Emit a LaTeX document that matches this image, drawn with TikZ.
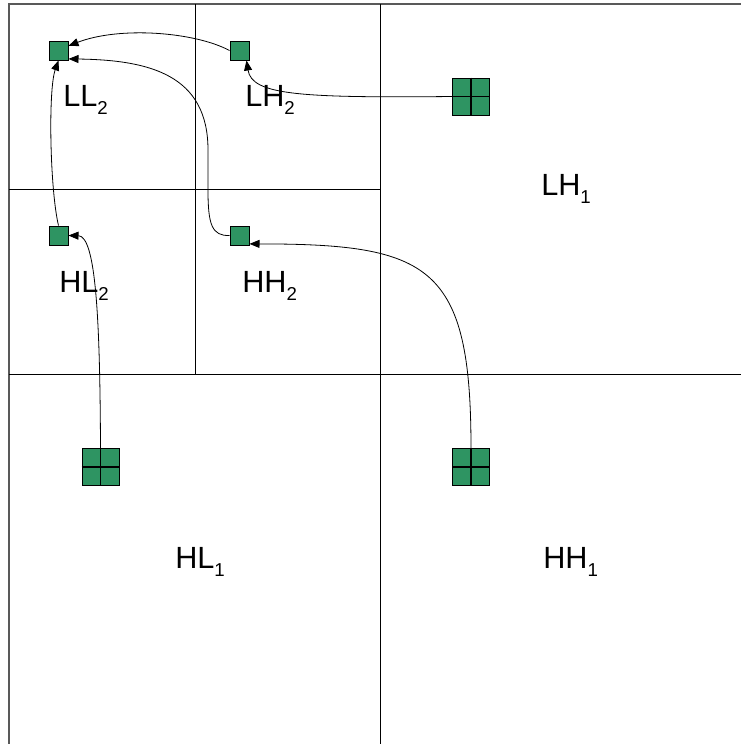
\documentclass[tikz,border=0pt]{standalone}
\usepackage{fontspec}
\setmainfont{Liberation Sans}
\usetikzlibrary{arrows.meta}
\definecolor{cellgreen}{RGB}{46,148,98}
\newcommand{\subidx}[1]{\raisebox{-0.28em}{\fontsize{14}{15}\selectfont #1}}

\begin{document}
\begin{tikzpicture}[x=0.75pt,y=-0.75pt,
  every node/.style={font=\fontsize{23}{27}\selectfont},
  band/.style={anchor=base west,inner sep=0pt},
  cell/.style={draw=black,fill=cellgreen,minimum size=14.25pt,inner sep=0pt,line width=0.75pt},
  blk/.style={cell,minimum size=27.75pt},
  link/.style={-{Triangle[length=7.5pt,width=6pt]},line width=0.6pt}]
\useasboundingbox (0,0) rectangle (741,744);
% subband grid
\draw[gray!70!black,line width=1.5pt] (9,744)--(9,4)--(741,4);
\draw[line width=0.75pt] (380,4)--(380,744) (9,374.5)--(741,374.5);
\draw[line width=0.75pt] (195,4)--(195,374.5) (9,189)--(380,189);
\node[band] (tLL2) at (63,106) {LL\subidx{2}}; \node[band] (tLH2) at (245,106) {LH\subidx{2}};
\node[band] (tHL2) at (59,292) {HL\subidx{2}}; \node[band] (tHH2) at (242,292) {HH\subidx{2}};
\node[band] (tLH1) at (541,195) {LH\subidx{1}};
\node[band] (tHL1) at (175,568) {HL\subidx{1}}; \node[band] (tHH1) at (543,568) {HH\subidx{1}};
% coefficients
\node[cell] (LL2) at (58.5,50.5) {}; \node[cell] (LH2) at (239.5,50.5) {};
\node[cell] (HL2) at (58.5,235.5) {}; \node[cell] (HH2) at (239.5,235.5) {};
\node[blk] (LH1) at (471,96.5) {}; \node[blk] (HL1) at (100.5,467) {}; \node[blk] (HH1) at (471,467) {};
\foreach \b in {LH1,HL1,HH1}
  \draw[line width=0.9pt] (\b.north)--(\b.south) (\b.west)--(\b.east);
% parent-child links
\draw[link] (LH2.west) .. controls (195,32) and (120,26) .. (LL2.25);
\draw[link] (HH2.west) .. controls (212,236) and (208,225) .. (208,190) -- (208,150)
  .. controls (208,75) and (150,60) .. (LL2.-40);
\draw[link] (HL2.north) .. controls (50,190) and (48,90) .. (LL2.south);
\draw[link] (LH1.west) .. controls (300,98) and (252,95) .. (LH2.-55);
\draw[link] (HL1.north) .. controls (100,320) and (96,236) .. (HL2.east);
\draw[link] (HH1.north) .. controls (471,265) and (430,244) .. (HH2.-40);
\end{tikzpicture}
\end{document}
